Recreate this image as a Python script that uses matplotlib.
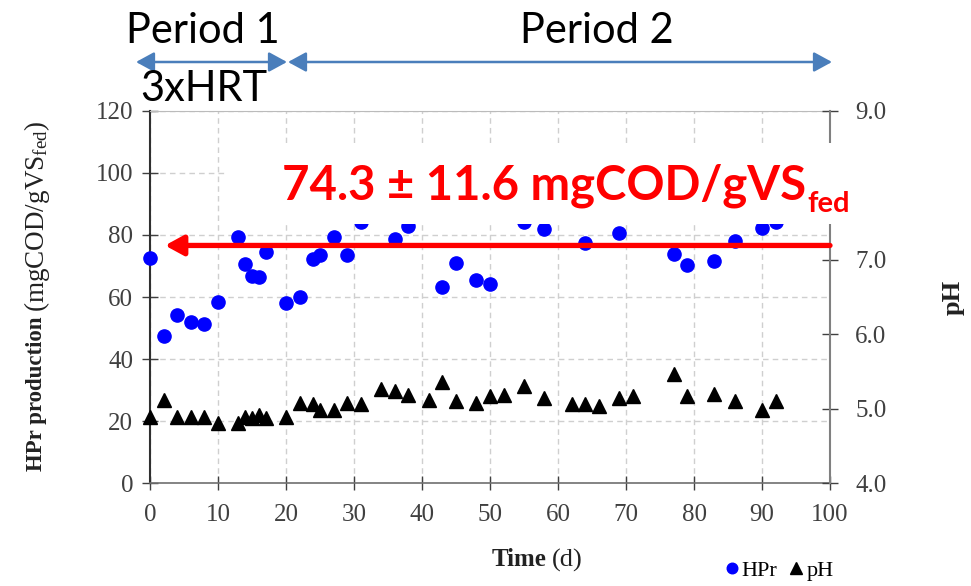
import matplotlib
matplotlib.use('Agg')
import matplotlib.pyplot as plt
import matplotlib.transforms as mtransforms
from matplotlib.patches import Rectangle, FancyArrowPatch

plt.rcParams['mathtext.fontset'] = 'custom'
plt.rcParams['mathtext.rm'] = 'Liberation Serif'
plt.rcParams['mathtext.it'] = 'Liberation Serif:italic'
plt.rcParams['mathtext.bf'] = 'Liberation Serif:bold'

# ---------------- data ----------------
hpr_days = [0, 2, 4, 6, 8, 10, 13, 14, 15, 16, 17, 20, 22, 24, 25, 27, 29, 31,
            36, 38, 43, 45, 48, 50, 55, 58, 64, 69, 77, 79, 83, 86, 90, 92]
hpr_vals = [72.5, 47.5, 54.2, 51.8, 51.2, 58.5, 79.2, 70.6, 66.8, 66.3, 74.5, 58.2,
            60.1, 72.2, 73.5, 79.4, 73.4, 84.0, 78.7, 83.0, 63.2, 71.0, 65.4, 64.3,
            84.0, 82.0, 77.3, 80.7, 73.8, 70.3, 71.5, 78.0, 82.1, 84.0]

ph_days = [0, 2, 4, 6, 8, 10, 13, 14, 15, 16, 17, 20, 22, 24, 25, 27, 29, 31, 34,
           36, 38, 41, 43, 45, 48, 50, 52, 55, 58, 62, 64, 66, 69, 71, 77, 79, 83,
           86, 90, 92]
ph_vals = [4.89, 5.12, 4.89, 4.89, 4.89, 4.81, 4.81, 4.89, 4.87, 4.92, 4.87, 4.89,
           5.08, 5.06, 4.99, 4.98, 5.08, 5.06, 5.26, 5.24, 5.19, 5.12, 5.36, 5.11,
           5.08, 5.17, 5.19, 5.31, 5.14, 5.06, 5.06, 5.04, 5.14, 5.17, 5.47, 5.17,
           5.20, 5.10, 4.98, 5.10]

x_ticks = list(range(0, 101, 10))
y_ticks = list(range(0, 121, 20))
ph_ticks = [4.0, 5.0, 6.0, 7.0, 8.0, 9.0]
ph_tick_labels = ['4.0', '5.0', '6.0', '7.0', '', '9.0']   # 8.0 hidden by the annotation box

mean_value = 76.6   # level of red arrow
mean_text = "74.3 \u00b1 11.6 mgCOD/gVS"

# ---------------- figure ----------------
W, H = 971, 586
fig = plt.figure(figsize=(W / 100, H / 100), dpi=100)
px = mtransforms.Affine2D().scale(1 / W, -1 / H).translate(0, 1) + fig.transFigure

ax = fig.add_axes([150 / W, 1 - 483.3 / H, 680 / W, (483.3 - 110.7) / H])
ax2 = ax.twinx()

serif = 'Liberation Serif'
tick_col = '#404040'
lab_col = '#222222'

l1, = ax.plot(hpr_days, hpr_vals, 'o', color='#0000ff', ms=9.5, zorder=3,
              clip_on=False, label='HPr')
l2, = ax2.plot(ph_days, ph_vals, '^', color='black', ms=10, zorder=3,
               clip_on=False, label='pH')

ax.set_xlim(0, 100)
ax.set_ylim(0, 120)
ax2.set_ylim(4, 9)
ax.set_xticks(x_ticks)
ax.set_yticks(y_ticks)
ax2.set_yticks(ph_ticks)
ax2.set_yticklabels(ph_tick_labels)

ax.grid(True, ls=(0, (4, 3)), color='#cfcfcf', lw=1)
ax.set_axisbelow(True)

for a in (ax, ax2):
    for lab in a.get_xticklabels() + a.get_yticklabels():
        lab.set_fontfamily(serif)
        lab.set_fontsize(18)
        lab.set_color(tick_col)

ax.tick_params(axis='y', direction='inout', length=12, width=1, colors=tick_col, pad=6)
ax.tick_params(axis='x', direction='inout', length=10, width=1, colors=tick_col, pad=10)
ax2.tick_params(axis='y', direction='inout', length=12, width=1, colors=tick_col, pad=12)

ax.spines['left'].set_color('#303030')
ax.spines['left'].set_linewidth(1.5)
ax.spines['bottom'].set_color('#707070')
ax.spines['bottom'].set_linewidth(1.2)
ax.spines['top'].set_color('#bbbbbb')
ax.spines['right'].set_visible(False)
for s in ('left', 'top', 'bottom'):
    ax2.spines[s].set_visible(False)
ax2.spines['right'].set_color('#808080')
ax2.spines['right'].set_linewidth(1.5)

# red arrow (mean)
y_ph = 4 + (mean_value / 120) * 5
ax2.annotate('', xy=(2.2, y_ph), xytext=(100, y_ph),
             arrowprops=dict(arrowstyle='-|>,head_length=0.55,head_width=0.3',
                             lw=3.8, color='#ff0000', shrinkA=0, shrinkB=0,
                             mutation_scale=20), zorder=4)

# white box with red annotation
fig.add_artist(Rectangle((225, 224), 685, -81, transform=px, facecolor='white',
                         edgecolor='none', zorder=5))
rt = fig.text(282 / W, 1 - 200 / H, mean_text, ha='left', va='baseline', fontfamily='Lato',
              fontweight='bold', fontsize=34, color='#ff0000', zorder=6)

# axis labels (first parts)
yl1 = fig.text(37 / W, 1 - 471 / H, 'HPr production', rotation=90, ha='center', va='bottom',
               fontfamily=serif, fontweight='bold', fontsize=16.5, color=lab_col)
xl1 = fig.text(546 / W, 1 - 560 / H, 'Time', ha='right', va='center', fontfamily=serif,
               fontweight='bold', fontsize=18, color=lab_col)

fig.canvas.draw()
bb = rt.get_window_extent()
fig.text(bb.x1 / W + 1 / W, 1 - 212 / H, 'fed', ha='left', va='baseline', fontfamily='Lato',
         fontweight='bold', fontsize=21, color='#ff0000', zorder=6)
yb = yl1.get_window_extent()
fig.text(37 / W, (yb.y1 + 5) / H, '(mgCOD/gVS$_{\\rm fed}$)', rotation=90, ha='center',
         va='bottom', fontfamily=serif, fontsize=19.5, color=lab_col)
xb = xl1.get_window_extent()
fig.text((xb.x1 + 6) / W, 1 - 560 / H, '(d)', ha='left', va='center', fontfamily=serif,
         fontsize=19, color=lab_col)

fig.text(953 / W, 1 - 297 / H, 'pH', rotation=90, ha='center', va='center', fontfamily=serif,
         fontweight='bold', fontsize=19, color=lab_col)

# legend
fig.legend([l1, l2], ['HPr', 'pH'], loc='center left', bbox_to_anchor=(715 / W, 1 - 571 / H),
           ncol=2, frameon=False, handlelength=0.5, handletextpad=0.2, columnspacing=0.6,
           borderpad=0, markerscale=0.8, prop={'family': serif, 'size': 16})

# period annotations
blue = '#4a7ebb'
for a0, a1 in [(136, 287), (288, 832)]:
    fig.add_artist(FancyArrowPatch((a0, 62), (a1, 62), transform=px,
                                   arrowstyle='<|-|>,head_length=0.55,head_width=0.3',
                                   mutation_scale=20, color=blue, lw=1.8,
                                   shrinkA=0, shrinkB=0))
fig.text(203 / W, 1 - 31 / H, 'Period 1', ha='center', va='center', fontfamily='Lato',
         fontsize=30, color='black')
fig.text(597 / W, 1 - 31 / H, 'Period 2', ha='center', va='center', fontfamily='Lato',
         fontsize=30, color='black')
fig.text(204 / W, 1 - 89 / H, '3xHRT', ha='center', va='center', fontfamily='Lato',
         fontsize=30, color='black')

fig.savefig('out.png', dpi=100, facecolor='white')
